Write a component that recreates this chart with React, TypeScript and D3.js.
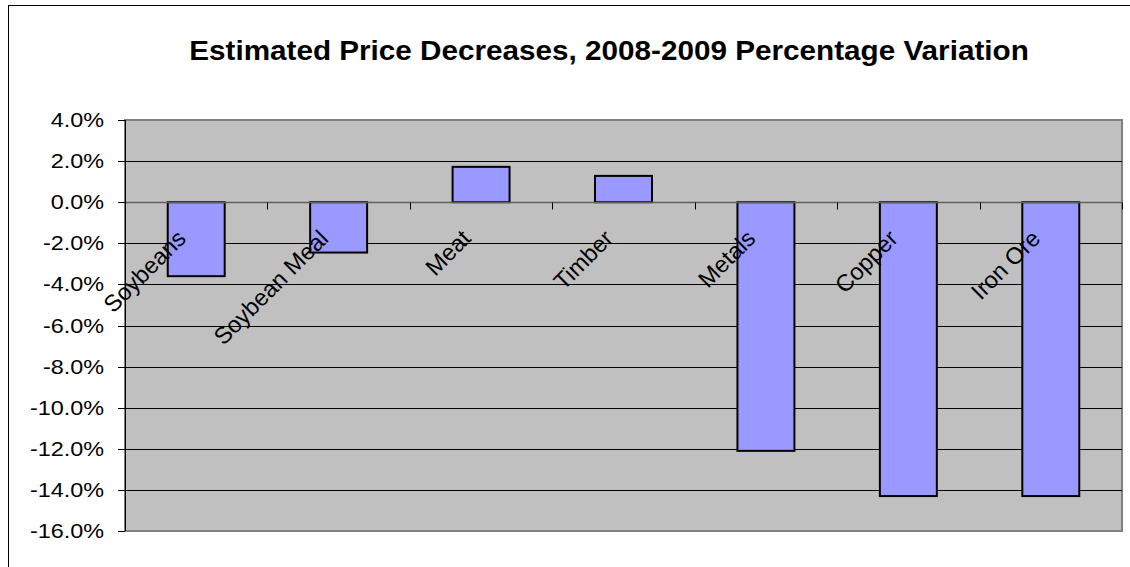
import * as d3 from "d3";
import React, { useEffect, useRef } from "react";

const categories = [
  "Soybeans",
  "Soybean Meal",
  "Meat",
  "Timber",
  "Metals",
  "Copper",
  "Iron Ore",
];
const values = [-3.6, -2.45, 1.72, 1.28, -12.1, -14.3, -14.3];
const yTicks = [4, 2, 0, -2, -4, -6, -8, -10, -12, -14, -16];
const title = "Estimated Price Decreases, 2008-2009 Percentage Variation";

const CONFIG = {
  width: 1130,
  height: 567,
  left: 125,
  right: 1122,
  top: 120,
  bottom: 531,
  font: "'Liberation Sans', Arial, sans-serif",
};

const App: React.FC = () => {
  const svgRef = useRef<SVGSVGElement>(null);

  useEffect(() => {
    const svg = d3.select(svgRef.current);
    svg.selectAll("*").remove();

    const x = d3
      .scaleBand<string>()
      .domain(categories)
      .range([CONFIG.left, CONFIG.right])
      .paddingInner(0.6)
      .paddingOuter(0.3);
    const band = d3
      .scaleBand<string>()
      .domain(categories)
      .range([CONFIG.left, CONFIG.right]);
    const y = d3.scaleLinear().domain([-16, 4]).range([CONFIG.bottom, CONFIG.top]);

    // outer chart frame (cut off right / bottom)
    svg
      .append("rect")
      .attr("x", 8.5)
      .attr("y", 5.5)
      .attr("width", 1200)
      .attr("height", 700)
      .attr("fill", "white")
      .attr("stroke", "#000")
      .attr("stroke-width", 1);

    svg
      .append("text")
      .attr("transform", "translate(609,60) scale(1.06,1)")
      .attr("text-anchor", "middle")
      .attr("font-family", CONFIG.font)
      .attr("font-weight", "bold")
      .attr("font-size", 28)
      .attr("fill", "#000")
      .text(title);

    // plot area
    svg
      .append("rect")
      .attr("x", CONFIG.left)
      .attr("y", CONFIG.top)
      .attr("width", CONFIG.right - CONFIG.left)
      .attr("height", CONFIG.bottom - CONFIG.top)
      .attr("fill", "#c0c0c0")
      .attr("stroke", "#808080")
      .attr("stroke-width", 2);

    // gridlines
    svg
      .append("g")
      .selectAll("line")
      .data(yTicks.filter((t) => t < 4 && t > -16 && t !== 0))
      .enter()
      .append("line")
      .attr("x1", CONFIG.left)
      .attr("x2", CONFIG.right)
      .attr("y1", (d) => Math.round(y(d)) + 0.5)
      .attr("y2", (d) => Math.round(y(d)) + 0.5)
      .attr("stroke", "#000")
      .attr("stroke-width", 1);

    // bars
    svg
      .append("g")
      .selectAll("rect")
      .data(values)
      .enter()
      .append("rect")
      .attr("x", (_: number, i: number) => x(categories[i])!)
      .attr("width", x.bandwidth())
      .attr("y", (d: number) => y(Math.max(0, d)))
      .attr("height", (d: number) => Math.abs(y(d) - y(0)))
      .attr("fill", "#9999ff")
      .attr("stroke", "#000")
      .attr("stroke-width", 2);

    // category axis at zero
    const y0 = Math.round(y(0)) + 0.5;
    svg
      .append("line")
      .attr("x1", CONFIG.left)
      .attr("x2", CONFIG.right)
      .attr("y1", y0)
      .attr("y2", y0)
      .attr("stroke", "#606060")
      .attr("stroke-width", 1.5);

    const boundaries = categories.map((c) => band(c)!).concat([CONFIG.right]);
    svg
      .append("g")
      .selectAll("line")
      .data(boundaries.slice(1))
      .enter()
      .append("line")
      .attr("x1", (d) => Math.round(d) + 0.5)
      .attr("x2", (d) => Math.round(d) + 0.5)
      .attr("y1", y0)
      .attr("y2", y0 + 7)
      .attr("stroke", "#000")
      .attr("stroke-width", 1);

    // category labels, rotated 45 degrees
    svg
      .append("g")
      .selectAll("text")
      .data(categories)
      .enter()
      .append("text")
      .attr("transform", (d) => {
        const cx = band(d)! + band.bandwidth() / 2;
        return `translate(${cx - 9},${240}) rotate(-45)`;
      })
      .attr("text-anchor", "end")
      .attr("font-family", CONFIG.font)
      .attr("font-size", 23.5)
      .attr("fill", "#000")
      .text((d) => d);

    // value axis
    svg
      .append("line")
      .attr("x1", CONFIG.left + 0.5)
      .attr("x2", CONFIG.left + 0.5)
      .attr("y1", CONFIG.top)
      .attr("y2", CONFIG.bottom)
      .attr("stroke", "#000")
      .attr("stroke-width", 1);

    const yAxis = svg.append("g");
    yAxis
      .selectAll("line")
      .data(yTicks)
      .enter()
      .append("line")
      .attr("x1", CONFIG.left - 7)
      .attr("x2", CONFIG.left)
      .attr("y1", (d) => Math.round(y(d)) + 0.5)
      .attr("y2", (d) => Math.round(y(d)) + 0.5)
      .attr("stroke", "#000");

    yAxis
      .selectAll("text")
      .data(yTicks)
      .enter()
      .append("text")
      .attr("transform", (d) => `translate(104,${y(d) + 7}) scale(1.2,1)`)
      .attr("text-anchor", "end")
      .attr("font-family", CONFIG.font)
      .attr("font-size", 19.5)
      .attr("fill", "#000")
      .text((d) => `${d.toFixed(1)}%`);
  }, []);

  return (
    <svg
      ref={svgRef}
      width={CONFIG.width}
      height={CONFIG.height}
      style={{ position: "absolute", left: 0, top: 0, background: "white" }}
    />
  );
};

export default App;
